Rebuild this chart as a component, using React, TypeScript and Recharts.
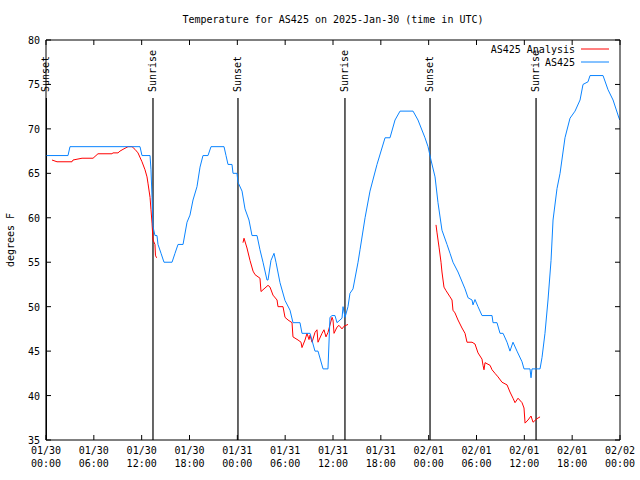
import { LineChart, Line, XAxis, YAxis, ReferenceLine, Legend } from 'recharts';

const FONT = '"DejaVu Sans Mono", "Liberation Mono", monospace';

const tickHours = [0, 6, 12, 18, 24, 30, 36, 42, 48, 54, 60, 66, 72];
const tickDates = ['01/30', '01/30', '01/30', '01/30', '01/31', '01/31', '01/31', '01/31', '02/01', '02/01', '02/01', '02/01', '02/02'];
const tickTimes = ['00:00', '06:00', '12:00', '18:00', '00:00', '06:00', '12:00', '18:00', '00:00', '06:00', '12:00', '18:00', '00:00'];
const tempTicks = [35, 40, 45, 50, 55, 60, 65, 70, 75, 80];

const sunHours = [0.05, 13.42, 24.08, 37.5, 48.17, 61.47];
const sunLabels = ['Sunset', 'Sunrise', 'Sunset', 'Sunrise', 'Sunset', 'Sunrise'];

// AS425 observed (hours since 01/30 00:00 UTC)
const obsHours = [
  0, 2.76, 3.01, 11.79, 12.04, 13.05, 13.17, 13.3, 13.42, 13.67, 13.92, 14.05, 14.43, 14.8, 15.81,
  16.18, 16.56, 17.19, 17.69, 18.06, 18.44, 18.94, 19.32, 19.69, 20.32, 20.7, 22.33, 22.58, 22.83,
  23.33, 23.46, 23.96, 24.08, 24.59, 24.96, 25.46, 25.84, 26.47, 26.84, 27.22, 27.72, 27.85, 28.22,
  28.6, 28.85, 29.35, 29.98, 30.61, 30.98, 31.86, 32.11, 33.12, 33.74, 34.12, 34.75, 35.37, 35.62,
  35.88, 36.25, 36.5, 37.13, 37.26, 37.51, 37.88, 38.13, 38.51, 39.14, 39.39, 40.02, 40.64, 41.52,
  42.53, 43.15, 43.78, 44.41, 46.04, 46.66, 47.54, 47.92, 48.29, 48.8, 49.17, 49.67, 50.3, 50.68,
  51.05, 51.68, 52.56, 52.94, 53.44, 53.56, 53.81, 54.19, 54.69, 55.95, 56.07, 56.57, 56.95, 57.33,
  57.83, 58.2, 58.58, 59.08, 59.71, 59.96, 60.71, 60.84, 60.96, 61.97, 62.22, 62.59, 62.97, 63.35,
  63.6, 64.1, 64.48, 65.1, 65.73, 66.36, 66.99, 67.36, 67.99, 68.24, 69.87, 70.5, 71.13, 71.88, 72,
];
const obsTemps = [
  67, 67, 68, 68, 67, 67, 65.4, 62.3, 59, 58, 58, 57, 56, 55, 55,
  56, 57, 57, 59.5, 60.3, 62, 63.5, 65.7, 67, 67, 68, 68, 67, 66,
  66, 65, 65, 64, 63, 61, 59.75, 58, 58, 56.4, 55, 53, 53, 55.2,
  56, 55, 52.7, 50.7, 49.6, 48.2, 48.2, 47, 47, 45, 45, 43, 43, 48.8,
  49, 49, 48.2, 48.7, 50, 48.8, 50, 51.5, 52, 55, 56.4, 60, 63, 66,
  69, 69, 71, 72, 72, 71, 69, 68, 66.5, 64.6, 61.7, 58.6, 57, 56,
  55, 53.9, 52, 51, 50.75, 50.2, 50.8, 50, 49, 49, 48.2, 48.2, 47, 47,
  46, 45, 46, 45, 43.8, 43, 43, 42, 43, 43, 44.3, 47, 50.75, 55.2,
  59.75, 63.3, 65, 69, 71.2, 72, 73.25, 75, 75.3, 76, 76, 74.4, 73.25, 71.2, 71,
];

// AS425 Analysis (null = gap between runs)
const anaHours = [
  0.75, 1.38, 3.26, 3.39, 4.52, 5.9, 6.15, 6.52, 8.28, 8.4, 9.03, 9.28, 9.66, 10.29, 10.79, 11.16,
  11.54, 12.04, 12.42, 12.67, 12.79, 13.05, 13.17, 13.3, 13.42, 13.67, 13.73, 13.8, 13.92,
  19,
  24.71, 24.84, 25.21, 25.59, 25.97, 26.22, 26.84, 26.97, 27.22, 27.85, 28.1, 28.47, 28.98, 29.1,
  29.73, 29.98, 30.36, 30.86, 30.98, 31.61, 31.99, 32.11, 32.49, 32.74, 32.99, 33.12, 33.37, 33.74,
  33.99, 34.12, 34.62, 34.87, 35.12, 35.37, 35.88, 36, 36.13, 36.5, 36.75, 37.13, 37.38, 37.88,
  43,
  48.92, 49.05, 49.3, 49.55, 49.67, 49.92, 50.18, 50.68, 50.93, 51.05, 51.3, 51.68, 52.18, 52.56,
  52.81, 53.44, 53.81, 54.19, 54.69, 54.82, 54.94, 55.07, 55.7, 55.95, 56.32, 56.7, 57.2, 57.83,
  58.2, 58.58, 58.83, 59.21, 59.71, 59.96, 60.09, 60.46, 60.84, 61.09, 61.59, 61.97,
];
const anaTemps = [
  66.5, 66.3, 66.3, 66.5, 66.7, 66.7, 66.9, 67.2, 67.2, 67.3, 67.3, 67.5, 67.7, 68, 68, 67.7,
  67.3, 66.3, 65.4, 64.6, 63.9, 62.3, 60.9, 59.4, 57.5, 57, 55.8, 55.6, 55.5,
  null,
  57.2, 57.7, 56.6, 55.2, 54, 53.6, 53.2, 51.7, 51.9, 52.4, 52.2, 51.3, 50.75, 50,
  50, 48.8, 48.5, 48.2, 46.6, 46.25, 46, 45.4, 46.25, 47, 46.3, 46.8, 46, 47.1,
  47.4, 46, 47, 47.4, 46.6, 47.1, 48.8, 48.5, 47, 47.7, 47.9, 47.5, 47.8, 48,
  null,
  59.2, 58.3, 56.7, 55, 53.9, 52.2, 51.8, 51.1, 50.75, 49.6, 49.3, 48.5, 47.6, 47,
  46, 46, 45.8, 44.8, 44.1, 43.4, 42.9, 43.7, 43.4, 42.9, 42.5, 42.1, 41.5, 41.2,
  40.4, 39.7, 39.2, 39.7, 39.2, 38.6, 36.9, 37.25, 37.7, 37, 37.4, 37.6,
];

const obsData = obsHours.map((h, i) => ({ h, t: obsTemps[i] }));
const anaData = anaHours.map((h, i) => ({ h, t: anaTemps[i] }));

const BLUE = '#0a84ff';
const RED = '#ff0000';

function BottomTick({ x, y, index }: any) {
  return (
    <g>
      <line x1={x} y1={y} x2={x} y2={y - 5} stroke="#000" />
      <text x={x} y={y + 14} textAnchor="middle" fontFamily={FONT} fontSize={10} fill="#000">{tickDates[index]}</text>
      <text x={x} y={y + 27} textAnchor="middle" fontFamily={FONT} fontSize={10} fill="#000">{tickTimes[index]}</text>
    </g>
  );
}

function TopTick({ x, y }: any) {
  return <line x1={x} y1={y} x2={x} y2={y + 5} stroke="#000" />;
}

function LeftTick({ x, y, payload }: any) {
  return (
    <g>
      <line x1={x} y1={y} x2={x + 5} y2={y} stroke="#000" />
      <text x={x - 6} y={y + 4} textAnchor="end" fontFamily={FONT} fontSize={10} fill="#000">{payload.value}</text>
    </g>
  );
}

function RightTick({ x, y }: any) {
  return <line x1={x} y1={y} x2={x - 5} y2={y} stroke="#000" />;
}

function sunShape(label: string) {
  return (p: any) => {
    const top = Math.min(p.y1, p.y2);
    const bottom = Math.max(p.y1, p.y2);
    return (
      <g>
        <line x1={p.x1} y1={top + 58} x2={p.x2} y2={bottom} stroke="#000" strokeWidth={1.2} />
        <text
          x={p.x1}
          y={top + 52}
          transform={`rotate(-90 ${p.x1} ${top + 52})`}
          textAnchor="start"
          dominantBaseline="middle"
          fontFamily={FONT}
          fontSize={10}
          fill="#000"
        >
          {label}
        </text>
      </g>
    );
  };
}

function LegendBox() {
  return (
    <svg width={150} height={30} style={{ display: 'block' }}>
      <text x={105} y={11} textAnchor="end" fontFamily={FONT} fontSize={10}>AS425 Analysis</text>
      <line x1={111} y1={7} x2={139} y2={7} stroke={RED} />
      <text x={105} y={24} textAnchor="end" fontFamily={FONT} fontSize={10}>AS425</text>
      <line x1={111} y1={20} x2={139} y2={20} stroke={BLUE} />
    </svg>
  );
}

export default function App() {
  return (
    <div style={{ position: 'absolute', left: 0, top: 0, width: 640, height: 480, background: '#fff' }}>
      <div
        style={{
          position: 'absolute', left: 46, top: 14, width: 574, textAlign: 'center',
          fontFamily: FONT, fontSize: 10, lineHeight: '12px', color: '#000',
        }}
      >
        Temperature for AS425 on 2025-Jan-30 (time in UTC)
      </div>
      <LineChart width={640} height={480} margin={{ top: 39, right: 19, bottom: 0, left: 0 }}>
        <XAxis
          xAxisId="b" dataKey="h" type="number" domain={[0, 72]} ticks={tickHours}
          height={40} tickSize={0} tickMargin={0} tickLine={false} interval={0}
          stroke="#000" tick={<BottomTick />} allowDataOverflow
        />
        <XAxis
          xAxisId="t" orientation="top" dataKey="h" type="number" domain={[0, 72]} ticks={tickHours}
          height={1} tickSize={0} tickMargin={0} tickLine={false} interval={0}
          stroke="#000" tick={<TopTick />} allowDataOverflow
        />
        <YAxis
          yAxisId="l" type="number" domain={[35, 80]} ticks={tempTicks} width={46}
          tickSize={0} tickMargin={0} tickLine={false} interval={0} stroke="#000" tick={<LeftTick />}
          allowDataOverflow
          label={{ value: 'degrees F', angle: -90, position: 'insideLeft', offset: 10, fontFamily: FONT, fontSize: 10, fill: '#000', style: { textAnchor: 'middle' } }}
        />
        <YAxis
          yAxisId="r" orientation="right" type="number" domain={[35, 80]} ticks={tempTicks} width={1}
          tickSize={0} tickMargin={0} tickLine={false} interval={0} stroke="#000" tick={<RightTick />}
          allowDataOverflow
        />
        {sunHours.map((h, i) => (
          <ReferenceLine key={i} x={h} xAxisId="b" yAxisId="l" shape={sunShape(sunLabels[i])} />
        ))}
        <Legend
          layout="horizontal" verticalAlign="middle" align="center"
          wrapperStyle={{ left: 470, top: 42, width: 150 }}
          content={() => <LegendBox />}
        />
        <Line
          xAxisId="b" yAxisId="l" data={anaData} dataKey="t" name="AS425 Analysis"
          stroke={RED} strokeWidth={1} dot={false} activeDot={false} connectNulls={false}
          isAnimationActive={false}
        />
        <Line
          xAxisId="b" yAxisId="l" data={obsData} dataKey="t" name="AS425"
          stroke={BLUE} strokeWidth={1} dot={false} activeDot={false}
          isAnimationActive={false}
        />
      </LineChart>
    </div>
  );
}
